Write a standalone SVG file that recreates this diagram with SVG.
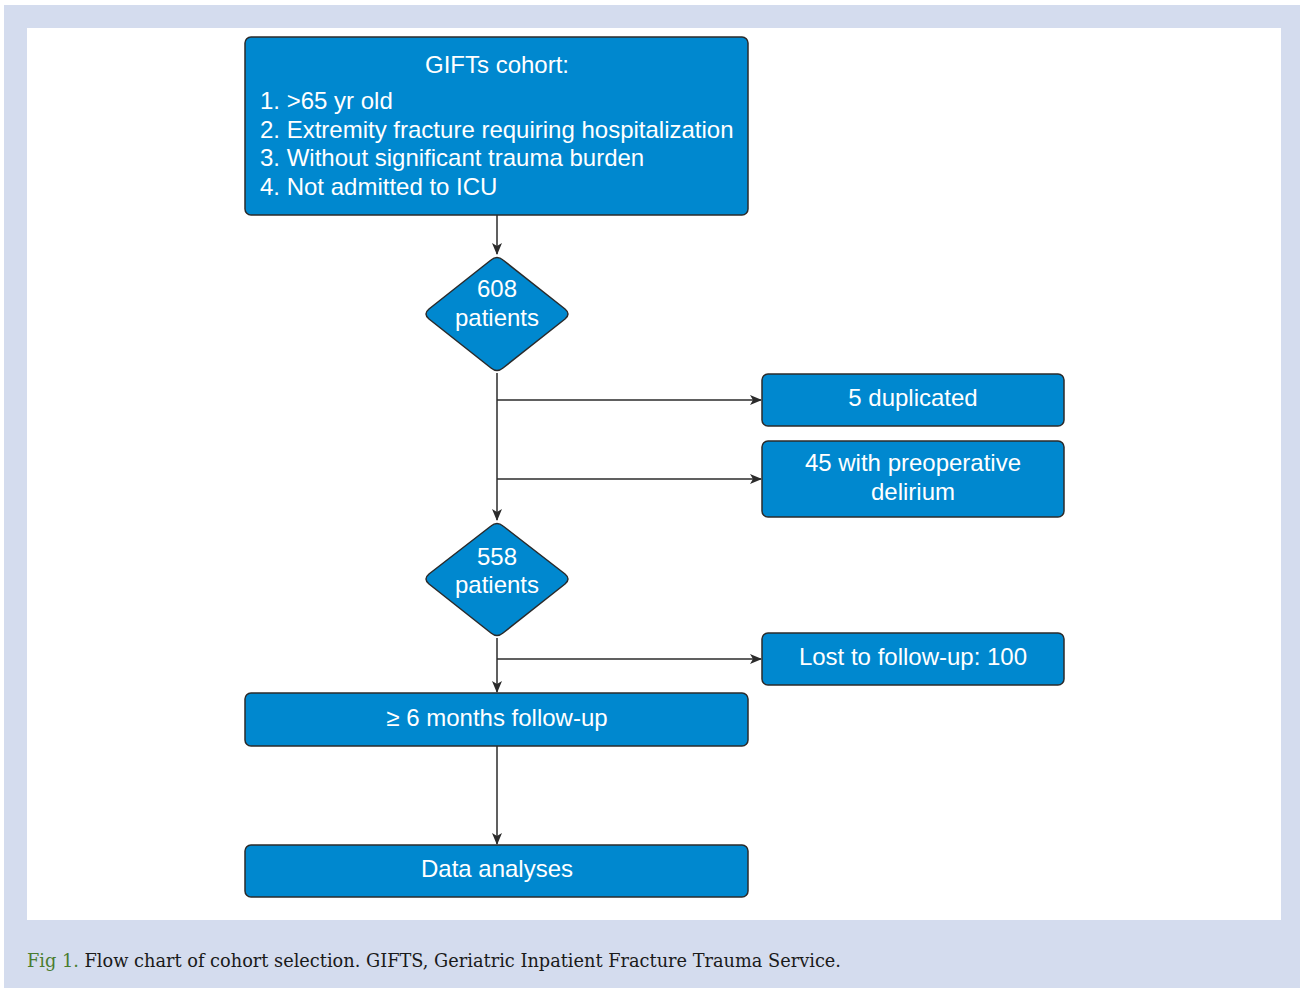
<svg xmlns="http://www.w3.org/2000/svg" width="1300" height="988" viewBox="0 0 1300 988">
<style>
.box{fill:#0088cf;stroke:#2b2b2b;stroke-width:1.5}
.t{font-family:"Liberation Sans",Arial,sans-serif;font-size:24px;fill:#ffffff}
.c{text-anchor:middle}
.ln{stroke:#2b2b2b;stroke-width:1.5;fill:none}
.cap{font-family:"DejaVu Serif","Liberation Serif",serif;font-size:18.5px;fill:#1a1a1a}
</style>
<defs>
<marker id="ah" markerWidth="12" markerHeight="10" refX="11" refY="5" orient="auto" markerUnits="userSpaceOnUse">
<path d="M0,0 L12,5 L0,10 L3,5 Z" fill="#2b2b2b"/>
</marker>
</defs>
<rect x="0" y="0" width="1300" height="988" fill="#ffffff"/>
<rect x="4" y="5" width="1296" height="983" fill="#d4dcee"/>
<rect x="27" y="28" width="1254" height="892" fill="#ffffff"/>

<g id="connectors">
<line class="ln" x1="497" y1="215" x2="497" y2="254" marker-end="url(#ah)"/>
<line class="ln" x1="497" y1="373" x2="497" y2="520" marker-end="url(#ah)"/>
<line class="ln" x1="497" y1="400" x2="761" y2="400" marker-end="url(#ah)"/>
<line class="ln" x1="497" y1="479" x2="761" y2="479" marker-end="url(#ah)"/>
<line class="ln" x1="497" y1="638" x2="497" y2="692" marker-end="url(#ah)"/>
<line class="ln" x1="497" y1="659" x2="761" y2="659" marker-end="url(#ah)"/>
<line class="ln" x1="497" y1="746" x2="497" y2="844" marker-end="url(#ah)"/>
</g>

<g id="cohort">
<rect class="box" x="245" y="37" width="503" height="178" rx="6"/>
<text class="t c" x="497" y="73">GIFTs cohort:</text>
<text class="t" x="260" y="109">1. &gt;65 yr old</text>
<text class="t" x="260" y="138">2. Extremity fracture requiring hospitalization</text>
<text class="t" x="260" y="166">3. Without significant trauma burden</text>
<text class="t" x="260" y="195">4. Not admitted to ICU</text>
</g>

<g id="d608">
<path class="box" d="M491,260 Q497,255 503,260 L565,309 Q571,314 565,319 L503,368 Q497,373 491,368 L429,319 Q423,314 429,309 Z"/>
<text class="t c" x="497" y="297">608</text>
<text class="t c" x="497" y="326">patients</text>
</g>

<g id="dup">
<rect class="box" x="762" y="374" width="302" height="52" rx="6"/>
<text class="t c" x="913" y="406">5 duplicated</text>
</g>

<g id="delirium">
<rect class="box" x="762" y="441" width="302" height="76" rx="6"/>
<text class="t c" x="913" y="471">45 with preoperative</text>
<text class="t c" x="913" y="500">delirium</text>
</g>

<g id="d558">
<path class="box" d="M491,526 Q497,521 503,526 L565,574 Q571,579 565,584 L503,633 Q497,638 491,633 L429,584 Q423,579 429,574 Z"/>
<text class="t c" x="497" y="565">558</text>
<text class="t c" x="497" y="593">patients</text>
</g>

<g id="lost">
<rect class="box" x="762" y="633" width="302" height="52" rx="6"/>
<text class="t c" x="913" y="665">Lost to follow-up: 100</text>
</g>

<g id="followup">
<rect class="box" x="245" y="693" width="503" height="53" rx="6"/>
<text class="t c" x="497" y="726">≥ 6 months follow-up</text>
</g>

<g id="analyses">
<rect class="box" x="245" y="845" width="503" height="52" rx="6"/>
<text class="t c" x="497" y="877">Data analyses</text>
</g>

<text class="cap" x="27" y="967" textLength="814" lengthAdjust="spacingAndGlyphs"><tspan fill="#4a7c2f">Fig 1.</tspan> Flow chart of cohort selection. GIFTS, Geriatric Inpatient Fracture Trauma Service.</text>
</svg>
